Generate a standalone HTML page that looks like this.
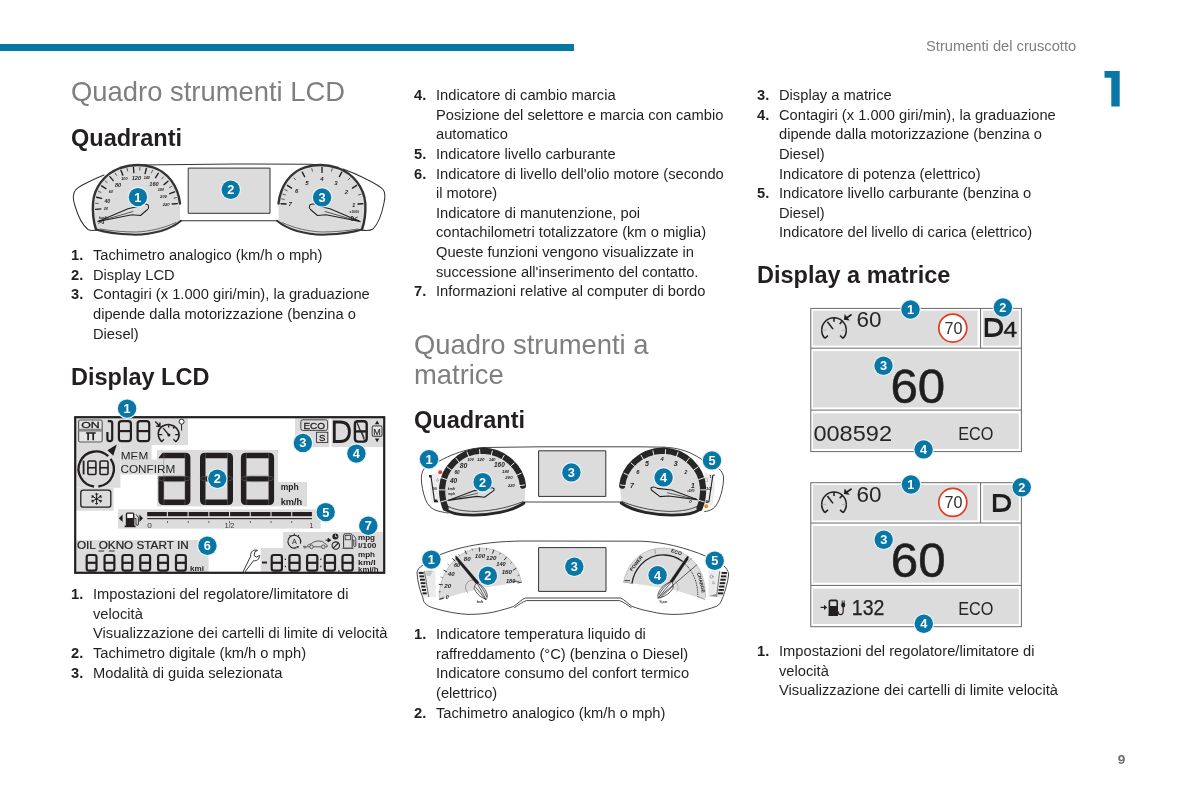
<!DOCTYPE html>
<html><head><meta charset="utf-8"><title>Strumenti del cruscotto</title>
<style>
html,body{margin:0;padding:0;background:#fff;}
body{width:1191px;height:794px;position:relative;overflow:hidden;font-family:"Liberation Sans",sans-serif;color:#231f20;}
.abs{position:absolute;}
.t{position:absolute;font-size:14.7px;line-height:19.62px;white-space:nowrap;}
.t b{position:absolute;left:-22px;font-weight:bold;}
.h1{position:absolute;font-size:27.4px;line-height:29.5px;color:#7f7f7f;white-space:nowrap;}
.h2{position:absolute;font-size:23.5px;font-weight:bold;line-height:28px;color:#231f20;white-space:nowrap;}
svg{position:absolute;overflow:visible;}
body>*{will-change:transform}</style></head><body>
<div class="abs" style="left:0;top:43.9px;width:573.7px;height:7.3px;background:#0877a5;"></div>
<div class="t" style="left:926px;top:36.7px;color:#7f7f7f;">Strumenti del cruscotto</div>
<svg style="left:0;top:0" width="1191" height="794"><text x="1117.8" y="764" font-family="Liberation Sans, sans-serif" font-size="13.6" font-weight="bold" fill="#6e6e6e">9</text></svg>

<!-- column 1 -->
<div class="h1" style="left:71px;top:76.8px;">Quadro strumenti LCD</div>
<div class="h2" style="left:71px;top:124.2px;">Quadranti</div>
<div class="t" style="left:93px;top:245.7px;"><b>1.</b>Tachimetro analogico (km/h o mph)<br><b>2.</b>Display LCD<br><b>3.</b>Contagiri (x 1.000 giri/min), la graduazione<br>dipende dalla motorizzazione (benzina o<br>Diesel)</div>
<div class="h2" style="left:71px;top:363px;">Display LCD</div>
<div class="t" style="left:93px;top:584.7px;"><b>1.</b>Impostazioni del regolatore/limitatore di<br>velocità<br>Visualizzazione dei cartelli di limite di velocità<br><b>2.</b>Tachimetro digitale (km/h o mph)<br><b>3.</b>Modalità di guida selezionata</div>

<!-- column 2 -->
<div class="t" style="left:436px;top:85.7px;"><b>4.</b>Indicatore di cambio marcia<br>Posizione del selettore e marcia con cambio<br>automatico<br><b>5.</b>Indicatore livello carburante<br><b>6.</b>Indicatore di livello dell'olio motore (secondo<br>il motore)<br>Indicatore di manutenzione, poi<br>contachilometri totalizzatore (km o miglia)<br>Queste funzioni vengono visualizzate in<br>successione all'inserimento del contatto.<br><b>7.</b>Informazioni relative al computer di bordo</div>
<div class="h1" style="left:414px;top:329.5px;">Quadro strumenti a<br>matrice</div>
<div class="h2" style="left:414px;top:406px;">Quadranti</div>
<div class="t" style="left:436px;top:624.7px;"><b>1.</b>Indicatore temperatura liquido di<br>raffreddamento (°C) (benzina o Diesel)<br>Indicatore consumo del confort termico<br>(elettrico)<br><b>2.</b>Tachimetro analogico (km/h o mph)</div>

<!-- column 3 -->
<div class="t" style="left:779px;top:85.7px;"><b>3.</b>Display a matrice<br><b>4.</b>Contagiri (x 1.000 giri/min), la graduazione<br>dipende dalla motorizzazione (benzina o<br>Diesel)<br>Indicatore di potenza (elettrico)<br><b>5.</b>Indicatore livello carburante (benzina o<br>Diesel)<br>Indicatore del livello di carica (elettrico)</div>
<div class="h2" style="left:757px;top:261px;">Display a matrice</div>
<div class="t" style="left:779px;top:641.7px;"><b>1.</b>Impostazioni del regolatore/limitatore di<br>velocità<br>Visualizzazione dei cartelli di limite velocità</div>

<svg id="art" style="left:0;top:0" width="1191" height="794" viewBox="0 0 1191 794" font-family="Liberation Sans, sans-serif"><g id="img1" fill="none" stroke-linecap="round" stroke-linejoin="round"><path d="M104 175 C92 180 80 185 75.5 190 C72.5 194 73 200 75 206 C78 216 82 225 88 229.5 C91 231 94 230.5 97 230" stroke="#333" stroke-width="1.05"/><path d="M140 165 L235 163.9 L311 164.3 L326 165.5" stroke="#333" stroke-width="1.05"/><path d="M343 169 C350 171.5 356 174 363 177.5 C371 181.5 379 185 383 189.5 C385.5 192.5 385.3 197 384 203 C382 213 378 224 373 229 C370 231 366 230.8 361 230" stroke="#333" stroke-width="1.05"/><path d="M181 220.7 L277 220.7" stroke="#333" stroke-width="1.05"/><path d="M96 229.5 C93.5 222 92.5 212 93 203 C94 188 104 174 120 168 C131 164.3 143 164.3 153 167.3 C168 172 178 186 180 203.5 L180 221 C175 225.5 168 229 160 231 C150 234 140 234.8 132 234.3 C118 233.5 106 232 96 229.5 Z" fill="#dcdcdc" stroke="none"/><path d="M362 229.5 C364.5 222 365.8 212 365.3 203 C364 188 354 174 338 168 C327 164.3 315 164.3 305 167.3 C290 172 280.5 186 278.5 203.5 L278.5 221 C283 225.5 290 229 298 231 C308 234 318 234.8 326 234.3 C340 233.5 352 232 362 229.5 Z" fill="#dcdcdc" stroke="none"/><path d="M96 229.5 C93.5 222 92.5 212 93 203 C94 188 104 174 120 168 C131 164.3 143 164.3 153 167.3 C168 172 178 186 180 203.5" stroke="#333" stroke-width="2.4"/><path d="M96 229.5 C106 232.5 118 234 132 234.6 C142 235 152 233.5 161 231 C169 228.5 176 225 181 220.7" stroke="#333" stroke-width="2"/><path d="M100 229 C112 231 124 232 136 232 C150 231.5 164 228 176 222.5" stroke="#3a3a3a" stroke-width="0.7"/><path d="M362 229.5 C364.5 222 365.8 212 365.3 203 C364 188 354 174 338 168 C327 164.3 315 164.3 305 167.3 C290 172 280.5 186 278.5 203.5" stroke="#333" stroke-width="2.4"/><path d="M362 229.5 C352 232.5 340 234 326 234.6 C316 235 306 233.5 297 231 C289 228.5 282 225 277 220.7" stroke="#333" stroke-width="2"/><path d="M358 229 C346 231 334 232 322 232 C308 231.5 294 228 282 222.5" stroke="#3a3a3a" stroke-width="0.7"/><rect x="188.6" y="168.1" width="81.4" height="45.2" fill="#dcdcdc" stroke="#333" stroke-width="1"/><line x1="95.66" y1="209.36" x2="100.84" y2="208.91" stroke="#231f20" stroke-width="1.35"/><line x1="95.60" y1="203.26" x2="98.20" y2="203.44" stroke="#231f20" stroke-width="0.7"/><line x1="96.58" y1="197.22" x2="101.64" y2="198.40" stroke="#231f20" stroke-width="1.35"/><line x1="98.55" y1="191.40" x2="100.95" y2="192.38" stroke="#231f20" stroke-width="0.7"/><line x1="101.47" y1="185.95" x2="105.91" y2="188.65" stroke="#231f20" stroke-width="1.35"/><line x1="105.27" y1="181.00" x2="107.25" y2="182.68" stroke="#231f20" stroke-width="0.7"/><line x1="109.85" y1="176.67" x2="113.23" y2="180.62" stroke="#231f20" stroke-width="1.35"/><line x1="115.09" y1="173.08" x2="116.45" y2="175.30" stroke="#231f20" stroke-width="0.7"/><line x1="120.88" y1="170.31" x2="122.86" y2="175.12" stroke="#231f20" stroke-width="1.35"/><line x1="127.05" y1="168.44" x2="127.65" y2="170.97" stroke="#231f20" stroke-width="0.7"/><line x1="133.46" y1="167.51" x2="133.85" y2="172.69" stroke="#231f20" stroke-width="1.35"/><line x1="139.95" y1="167.54" x2="139.73" y2="170.13" stroke="#231f20" stroke-width="0.7"/><line x1="146.35" y1="168.53" x2="145.10" y2="173.58" stroke="#231f20" stroke-width="1.35"/><line x1="152.50" y1="170.46" x2="151.49" y2="172.86" stroke="#231f20" stroke-width="0.7"/><line x1="158.26" y1="173.28" x2="155.50" y2="177.69" stroke="#231f20" stroke-width="1.35"/><line x1="163.47" y1="176.92" x2="161.76" y2="178.88" stroke="#231f20" stroke-width="0.7"/><line x1="168.00" y1="181.29" x2="164.00" y2="184.62" stroke="#231f20" stroke-width="1.35"/><line x1="171.74" y1="186.28" x2="169.51" y2="187.61" stroke="#231f20" stroke-width="0.7"/><line x1="174.61" y1="191.76" x2="169.77" y2="193.68" stroke="#231f20" stroke-width="1.35"/><line x1="176.52" y1="197.60" x2="173.98" y2="198.16" stroke="#231f20" stroke-width="0.7"/><line x1="177.42" y1="203.64" x2="172.23" y2="203.96" stroke="#231f20" stroke-width="1.35"/><text x="105.9" y="209.97" font-size="3.8" font-weight="bold" font-style="italic" fill="#231f20" stroke="none" text-anchor="middle">20</text><text x="107.3" y="202.57" font-size="5.2" font-weight="bold" font-style="italic" fill="#231f20" stroke="none" text-anchor="middle">40</text><text x="110.9" y="192.77" font-size="3.8" font-weight="bold" font-style="italic" fill="#231f20" stroke="none" text-anchor="middle">60</text><text x="118" y="187.02" font-size="5.6" font-weight="bold" font-style="italic" fill="#231f20" stroke="none" text-anchor="middle">80</text><text x="124.4" y="179.97" font-size="3.8" font-weight="bold" font-style="italic" fill="#231f20" stroke="none" text-anchor="middle">100</text><text x="136.4" y="179.92" font-size="5.6" font-weight="bold" font-style="italic" fill="#231f20" stroke="none" text-anchor="middle">120</text><text x="146.8" y="179.37" font-size="3.8" font-weight="bold" font-style="italic" fill="#231f20" stroke="none" text-anchor="middle">140</text><text x="154" y="186.32" font-size="5.6" font-weight="bold" font-style="italic" fill="#231f20" stroke="none" text-anchor="middle">160</text><text x="160.9" y="190.67" font-size="3.8" font-weight="bold" font-style="italic" fill="#231f20" stroke="none" text-anchor="middle">180</text><text x="163.6" y="197.91" font-size="4.2" font-weight="bold" font-style="italic" fill="#231f20" stroke="none" text-anchor="middle">200</text><text x="166.2" y="205.81" font-size="4.2" font-weight="bold" font-style="italic" fill="#231f20" stroke="none" text-anchor="middle">220</text><line x1="281.07" y1="203.71" x2="286.06" y2="204.01" stroke="#231f20" stroke-width="1.35"/><line x1="287.33" y1="185.39" x2="291.56" y2="188.06" stroke="#231f20" stroke-width="1.35"/><line x1="302.21" y1="172.20" x2="304.62" y2="176.57" stroke="#231f20" stroke-width="1.35"/><line x1="322.00" y1="167.40" x2="322.00" y2="172.40" stroke="#231f20" stroke-width="1.35"/><line x1="341.79" y1="172.20" x2="339.38" y2="176.57" stroke="#231f20" stroke-width="1.35"/><line x1="356.67" y1="185.39" x2="352.44" y2="188.06" stroke="#231f20" stroke-width="1.35"/><line x1="362.93" y1="203.71" x2="357.94" y2="204.01" stroke="#231f20" stroke-width="1.35"/><line x1="282.97" y1="194.18" x2="285.45" y2="194.97" stroke="#231f20" stroke-width="0.7"/><line x1="293.88" y1="177.91" x2="295.67" y2="179.80" stroke="#231f20" stroke-width="0.7"/><line x1="311.78" y1="168.62" x2="312.43" y2="171.14" stroke="#231f20" stroke-width="0.7"/><line x1="332.22" y1="168.62" x2="331.57" y2="171.14" stroke="#231f20" stroke-width="0.7"/><line x1="350.12" y1="177.91" x2="348.33" y2="179.80" stroke="#231f20" stroke-width="0.7"/><line x1="361.03" y1="194.18" x2="358.55" y2="194.97" stroke="#231f20" stroke-width="0.7"/><line x1="281.70" y1="198.89" x2="284.26" y2="199.37" stroke="#231f20" stroke-width="0.7"/><line x1="284.86" y1="189.65" x2="287.21" y2="190.76" stroke="#231f20" stroke-width="0.7"/><text x="290.2" y="206.46" font-size="6" font-weight="bold" font-style="italic" fill="#231f20" stroke="none" text-anchor="middle">7</text><text x="296.6" y="192.86" font-size="6" font-weight="bold" font-style="italic" fill="#231f20" stroke="none" text-anchor="middle">6</text><text x="306.9" y="184.76" font-size="6" font-weight="bold" font-style="italic" fill="#231f20" stroke="none" text-anchor="middle">5</text><text x="322" y="180.76" font-size="6" font-weight="bold" font-style="italic" fill="#231f20" stroke="none" text-anchor="middle">4</text><text x="335.9" y="184.76" font-size="6" font-weight="bold" font-style="italic" fill="#231f20" stroke="none" text-anchor="middle">3</text><text x="346.3" y="193.56" font-size="6" font-weight="bold" font-style="italic" fill="#231f20" stroke="none" text-anchor="middle">2</text><text x="353.6" y="207.16" font-size="6" font-weight="bold" font-style="italic" fill="#231f20" stroke="none" text-anchor="middle">1</text><path d="M98 221.6 L128 208.8 L139 206.2 C143 203.5 146.5 203.8 148.3 205.2 C149 207 148.5 208.5 147.5 209.5 L140.5 215.5 L132 214.8 Z" stroke="#222" stroke-width="1.05" fill="#dcdcdc"/><path d="M98 221.6 L133 211.5" stroke="#222" stroke-width="0.7"/><path d="M360 221.6 L330 208.8 L319 206.2 C315 203.5 311.5 203.8 309.7 205.2 C309 207 309.5 208.5 310.5 209.5 L317.5 215.5 L326 214.8 Z" stroke="#222" stroke-width="1.05" fill="#dcdcdc"/><path d="M360 221.6 L325 211.5" stroke="#222" stroke-width="0.7"/><text x="99" y="218.6" font-size="3.6" font-weight="bold" font-style="italic" fill="#231f20" stroke="none">km/h</text><text x="98" y="224.4" font-size="5.6" font-weight="bold" fill="#231f20" stroke="none">&gt;0</text><text x="349.6" y="212.6" font-size="3.4" font-weight="bold" fill="#231f20" stroke="none">x1000</text><text x="350.6" y="221.4" font-size="6.4" font-weight="bold" fill="#231f20" stroke="none">0&lt;</text></g><circle cx="137.9" cy="197.1" r="10.299999999999999" fill="#e8f3f8"/><circle cx="137.9" cy="197.1" r="9.2" fill="#0877a5"/><text x="137.9" y="201.6" font-size="12.8" font-weight="bold" fill="#fff" text-anchor="middle">1</text><circle cx="230.7" cy="189.7" r="10.299999999999999" fill="#e8f3f8"/><circle cx="230.7" cy="189.7" r="9.2" fill="#0877a5"/><text x="230.7" y="194.2" font-size="12.8" font-weight="bold" fill="#fff" text-anchor="middle">2</text><circle cx="322.1" cy="197.4" r="10.299999999999999" fill="#e8f3f8"/><circle cx="322.1" cy="197.4" r="9.2" fill="#0877a5"/><text x="322.1" y="201.9" font-size="12.8" font-weight="bold" fill="#fff" text-anchor="middle">3</text><g id="img2"><rect x="76" y="418" width="112.00" height="27.00" fill="#dcdcdc"/><rect x="76" y="445" width="44.40" height="42.80" fill="#dcdcdc"/><rect x="76" y="488" width="37.60" height="22.70" fill="#dcdcdc"/><rect x="120.4" y="445" width="31.20" height="14.60" fill="#dcdcdc"/><rect x="120.4" y="459.4" width="55.60" height="15.10" fill="#dcdcdc"/><rect x="157" y="450" width="121.00" height="56.40" fill="#dcdcdc"/><rect x="278" y="482" width="29.00" height="24.40" fill="#dcdcdc"/><rect x="118" y="509.3" width="202.70" height="19.30" fill="#dcdcdc"/><rect x="76" y="540" width="132.60" height="32.00" fill="#dcdcdc"/><rect x="283" y="532" width="100.00" height="40.00" fill="#dcdcdc"/><rect x="260.7" y="548" width="122.30" height="24.00" fill="#dcdcdc"/><rect x="295" y="418" width="34.30" height="29.00" fill="#dcdcdc"/><rect x="331.4" y="418" width="51.60" height="29.00" fill="#dcdcdc"/><rect x="75.2" y="417.2" width="309" height="155.6" fill="none" stroke="#231f20" stroke-width="2.2"/><rect x="78.6" y="420" width="23.6" height="22" rx="1.8" fill="#e4e4e4" stroke="#5a5a5a" stroke-width="1.1"/><rect x="78.6" y="428.7" width="23.6" height="2.9" fill="#8a8a8a"/><text x="90.5" y="427.8" font-size="8.8" font-weight="normal" font-style="normal" fill="#1e1e1e" text-anchor="middle" textLength="18.6" lengthAdjust="spacingAndGlyphs" stroke="#1e1e1e" stroke-width="0.3">ON</text><path d="M86.1 433 H95.7 M88.1 433 V440.3 M93.2 433 V440.3" stroke="#231f20" stroke-width="1.7" fill="none"/><path d="M107.8 421.1 H110.2 Q112.2 421.1 112.2 423 V438.8 Q112.2 441.1 110 441.1 H109.4 Q107.4 441.1 107.4 438.8 V432" fill="none" stroke="#231f20" stroke-width="2.2" stroke-linejoin="round"/><path d="M121.49999999999999 421.1 H128.3 Q130.9 421.1 130.9 423.70000000000005 V438.49999999999994 Q130.9 441.09999999999997 128.3 441.09999999999997 H121.49999999999999 Q118.89999999999999 441.09999999999997 118.89999999999999 438.49999999999994 V423.70000000000005 Q118.89999999999999 421.1 121.49999999999999 421.1 Z" fill="none" stroke="#231f20" stroke-width="2.2" stroke-linejoin="round"/><line x1="118.89999999999999" y1="431.1" x2="130.9" y2="431.1" stroke="#231f20" stroke-width="2.2"/><path d="M140.2 421.1 H146.60000000000002 Q149.20000000000002 421.1 149.20000000000002 423.70000000000005 V438.49999999999994 Q149.20000000000002 441.09999999999997 146.60000000000002 441.09999999999997 H140.2 Q137.6 441.09999999999997 137.6 438.49999999999994 V423.70000000000005 Q137.6 421.1 140.2 421.1 Z" fill="none" stroke="#231f20" stroke-width="2.2" stroke-linejoin="round"/><line x1="137.6" y1="431.1" x2="149.20000000000002" y2="431.1" stroke="#231f20" stroke-width="2.2"/><path d="M161.6 441.6 C157 437 157.2 429.6 162.4 426.3 C167 423.4 173.4 424.2 176.8 428.4 C180.4 433 179.6 438.6 176 441.6" fill="none" stroke="#231f20" stroke-width="1.6"/><path d="M161.4 442 L164 439.3 M176.2 442 L173.4 439.3 M158.8 434.7 H162.2 M178.8 434.7 H175.2 M168.7 425.2 V427.4 M173 427.2 L174.2 428.6" stroke="#231f20" stroke-width="1.3" fill="none"/><path d="M163.2 428.1 L168.9 435" stroke="#231f20" stroke-width="1.3"/><circle cx="168.9" cy="435" r="1.5" fill="#231f20"/><path d="M155.3 421.6 L159.4 425.8 M156.2 426.3 H159.9 V422.4" stroke="#231f20" stroke-width="1.4" fill="none"/><circle cx="181.6" cy="421.7" r="2.5" fill="#f4f4f4" stroke="#231f20" stroke-width="0.9"/><line x1="181.6" y1="424.2" x2="181.6" y2="430.6" stroke="#231f20" stroke-width="1"/><path d="M116.8 444.4 L107.4 450.3 L113.3 455.8 Z" fill="#231f20"/><path d="M94 486.5 A17.6 17.6 0 1 1 108.2 456.2" fill="none" stroke="#231f20" stroke-width="2.3"/><path d="M110.6 458.8 A17.6 17.6 0 0 1 98.4 486.5" fill="none" stroke="#231f20" stroke-width="2.3"/><path d="M83.6 460.6 V474.4" stroke="#231f20" stroke-width="1.8"/><path d="M89.19999999999999 461.0 H94.6 Q95.89999999999999 461.0 95.89999999999999 462.3 V473.2 Q95.89999999999999 474.5 94.6 474.5 H89.19999999999999 Q87.89999999999999 474.5 87.89999999999999 473.2 V462.3 Q87.89999999999999 461.0 89.19999999999999 461.0 Z" fill="none" stroke="#231f20" stroke-width="1.6" stroke-linejoin="round"/><line x1="87.89999999999999" y1="467.75" x2="95.89999999999999" y2="467.75" stroke="#231f20" stroke-width="1.6"/><path d="M101.3 461.0 H106.7 Q108.0 461.0 108.0 462.3 V473.2 Q108.0 474.5 106.7 474.5 H101.3 Q100.0 474.5 100.0 473.2 V462.3 Q100.0 461.0 101.3 461.0 Z" fill="none" stroke="#231f20" stroke-width="1.6" stroke-linejoin="round"/><line x1="100.0" y1="467.75" x2="108.0" y2="467.75" stroke="#231f20" stroke-width="1.6"/><rect x="80.8" y="490.2" width="30" height="17" rx="2.5" fill="none" stroke="#231f20" stroke-width="1.3"/><path d="M96.60 492.90 L96.60 504.70 M96.60 502.46 L95.25 504.07 M96.60 502.46 L97.95 504.07 M96.60 495.14 L97.95 493.53 M96.60 495.14 L95.25 493.53 M101.71 495.85 L91.49 501.75 M93.43 500.63 L91.36 500.26 M93.43 500.63 L92.71 502.60 M99.77 496.97 L101.84 497.34 M99.77 496.97 L100.49 495.00 M101.71 501.75 L91.49 495.85 M93.43 496.97 L92.71 495.00 M93.43 496.97 L91.36 497.34 M99.77 500.63 L100.49 502.60 M99.77 500.63 L101.84 500.26 " stroke="#231f20" stroke-width="1" fill="none"/><path d="M163.4 452.8 H185.4 Q190.4 452.8 190.4 457.8 V500.0 Q190.4 505.0 185.4 505.0 H163.4 Q158.4 505.0 158.4 500.0 V457.8 Q158.4 452.8 163.4 452.8 Z M163.9 458.2 H184.9 V476.20000000000005 H163.9 Z M163.9 481.6 H184.9 V499.6 H163.9 Z" fill="#231f20" fill-rule="evenodd"/><path d="M157.8 458.2 H163.9 V476.20000000000005 H157.8 Z M157.8 458.4 L162.8 452.40000000000003 H157.8 Z" fill="#dcdcdc"/><path d="M163.9 452.8 V505.0 M184.9 452.8 V505.0" stroke="#8a8a8a" stroke-width="0.35" fill="none"/><path d="M205 452.8 H228 Q233 452.8 233 457.8 V500.0 Q233 505.0 228 505.0 H205 Q200 505.0 200 500.0 V457.8 Q200 452.8 205 452.8 Z M205.5 458.2 H227.5 V476.20000000000005 H205.5 Z M205.5 481.6 H227.5 V499.6 H205.5 Z" fill="#231f20" fill-rule="evenodd"/><path d="M205.5 452.8 V505.0 M227.5 452.8 V505.0" stroke="#8a8a8a" stroke-width="0.35" fill="none"/><path d="M245.9 452.8 H269.1 Q274.1 452.8 274.1 457.8 V500.0 Q274.1 505.0 269.1 505.0 H245.9 Q240.9 505.0 240.9 500.0 V457.8 Q240.9 452.8 245.9 452.8 Z M246.4 458.2 H268.6 V476.20000000000005 H246.4 Z M246.4 481.6 H268.6 V499.6 H246.4 Z" fill="#231f20" fill-rule="evenodd"/><path d="M246.4 452.8 V505.0 M268.6 452.8 V505.0" stroke="#8a8a8a" stroke-width="0.35" fill="none"/><text x="120.8" y="459.7" font-size="11" font-weight="normal" font-style="normal" fill="#262626" text-anchor="start" textLength="27.4" lengthAdjust="spacingAndGlyphs" >MEM</text><rect x="120.5" y="459.3" width="31" height="1.8" fill="#dcdcdc"/><text x="120.4" y="472.5" font-size="11.2" font-weight="normal" font-style="normal" fill="#262626" text-anchor="start" textLength="55" lengthAdjust="spacingAndGlyphs" >CONFIRM</text><ellipse cx="174" cy="478.6" rx="16.4" ry="3.4" fill="none" stroke="#888" stroke-width="0.4"/><ellipse cx="216.5" cy="478.6" rx="16.4" ry="3.4" fill="none" stroke="#888" stroke-width="0.4"/><ellipse cx="257.5" cy="478.6" rx="16.4" ry="3.4" fill="none" stroke="#888" stroke-width="0.4"/><text x="280.7" y="489.5" font-size="8.6" font-weight="bold" font-style="normal" fill="#231f20" text-anchor="start" textLength="18" lengthAdjust="spacingAndGlyphs" >mph</text><text x="280.7" y="505" font-size="8.6" font-weight="bold" font-style="normal" fill="#231f20" text-anchor="start" textLength="21.5" lengthAdjust="spacingAndGlyphs" >km/h</text><path d="M118.8 518.3 L122.6 514.6 V522 Z M143 518.3 L139.4 514.6 V522 Z" fill="#231f20"/><path d="M125.8 526.6 V514 Q125.8 512.4 127.4 512.4 H132.8 Q134.4 512.4 134.4 514 V526.6 Z" fill="#231f20"/><rect x="127.2" y="513.8" width="5.8" height="4.2" fill="#fff"/><rect x="124.6" y="525.6" width="11" height="1.6" fill="#231f20"/><path d="M134.4 518.5 H136 V524 Q136 525.3 137.2 525.3 Q138.4 525.3 138.4 524 V517.5 L136.2 514.4" fill="none" stroke="#231f20" stroke-width="0.9"/><rect x="147.20" y="512" width="19.62" height="4.2" fill="#231f20"/><rect x="167.92" y="512" width="19.62" height="4.2" fill="#231f20"/><rect x="167.02" y="521.2" width="0.8" height="1.6" fill="#231f20"/><rect x="188.65" y="512" width="19.62" height="4.2" fill="#231f20"/><rect x="187.75" y="521.2" width="0.8" height="1.6" fill="#231f20"/><rect x="209.38" y="512" width="19.62" height="4.2" fill="#231f20"/><rect x="208.47" y="521.2" width="0.8" height="1.6" fill="#231f20"/><rect x="230.10" y="512" width="19.62" height="4.2" fill="#231f20"/><rect x="229.20" y="521.2" width="0.8" height="1.6" fill="#231f20"/><rect x="250.82" y="512" width="19.62" height="4.2" fill="#231f20"/><rect x="249.92" y="521.2" width="0.8" height="1.6" fill="#231f20"/><rect x="271.55" y="512" width="19.62" height="4.2" fill="#231f20"/><rect x="270.65" y="521.2" width="0.8" height="1.6" fill="#231f20"/><rect x="292.27" y="512" width="19.62" height="4.2" fill="#231f20"/><rect x="291.38" y="521.2" width="0.8" height="1.6" fill="#231f20"/><rect x="147.2" y="518.1" width="164.70000000000002" height="1.1" fill="#231f20"/><text x="147.2" y="527.6" font-size="6.8" font-weight="normal" font-style="normal" fill="#333" text-anchor="start" textLength="4.6" lengthAdjust="spacingAndGlyphs" >0</text><text x="229.6" y="527.6" font-size="6.8" font-weight="normal" font-style="normal" fill="#333" text-anchor="middle" >1/2</text><text x="309.4" y="527.6" font-size="6.8" font-weight="normal" font-style="normal" fill="#333" text-anchor="start" >1</text><text x="77" y="548.8" font-size="10.6" font-weight="normal" font-style="normal" fill="#222" text-anchor="start" textLength="111.6" lengthAdjust="spacingAndGlyphs" stroke="#222" stroke-width="0.2">OIL OKNO START IN</text><path d="M98.5 551 H104.2 M109 551 H114.6" stroke="#231f20" stroke-width="0.9"/><path d="M88.89999999999999 555.0 H94.3 Q96.5 555.0 96.5 557.2 V568.3999999999999 Q96.5 570.5999999999999 94.3 570.5999999999999 H88.89999999999999 Q86.69999999999999 570.5999999999999 86.69999999999999 568.3999999999999 V557.2 Q86.69999999999999 555.0 88.89999999999999 555.0 Z" fill="none" stroke="#231f20" stroke-width="2.2" stroke-linejoin="round"/><line x1="86.69999999999999" y1="562.8" x2="96.5" y2="562.8" stroke="#231f20" stroke-width="2.2"/><path d="M106.75999999999999 555.0 H112.16 Q114.36 555.0 114.36 557.2 V568.3999999999999 Q114.36 570.5999999999999 112.16 570.5999999999999 H106.75999999999999 Q104.55999999999999 570.5999999999999 104.55999999999999 568.3999999999999 V557.2 Q104.55999999999999 555.0 106.75999999999999 555.0 Z" fill="none" stroke="#231f20" stroke-width="2.2" stroke-linejoin="round"/><line x1="104.55999999999999" y1="562.8" x2="114.36" y2="562.8" stroke="#231f20" stroke-width="2.2"/><path d="M124.61999999999999 555.0 H130.02 Q132.22 555.0 132.22 557.2 V568.3999999999999 Q132.22 570.5999999999999 130.02 570.5999999999999 H124.61999999999999 Q122.41999999999999 570.5999999999999 122.41999999999999 568.3999999999999 V557.2 Q122.41999999999999 555.0 124.61999999999999 555.0 Z" fill="none" stroke="#231f20" stroke-width="2.2" stroke-linejoin="round"/><line x1="122.41999999999999" y1="562.8" x2="132.22" y2="562.8" stroke="#231f20" stroke-width="2.2"/><path d="M142.48 555.0 H147.88000000000002 Q150.08 555.0 150.08 557.2 V568.3999999999999 Q150.08 570.5999999999999 147.88000000000002 570.5999999999999 H142.48 Q140.28 570.5999999999999 140.28 568.3999999999999 V557.2 Q140.28 555.0 142.48 555.0 Z" fill="none" stroke="#231f20" stroke-width="2.2" stroke-linejoin="round"/><line x1="140.28" y1="562.8" x2="150.08" y2="562.8" stroke="#231f20" stroke-width="2.2"/><path d="M160.33999999999997 555.0 H165.74 Q167.94 555.0 167.94 557.2 V568.3999999999999 Q167.94 570.5999999999999 165.74 570.5999999999999 H160.33999999999997 Q158.14 570.5999999999999 158.14 568.3999999999999 V557.2 Q158.14 555.0 160.33999999999997 555.0 Z" fill="none" stroke="#231f20" stroke-width="2.2" stroke-linejoin="round"/><line x1="158.14" y1="562.8" x2="167.94" y2="562.8" stroke="#231f20" stroke-width="2.2"/><path d="M178.19999999999996 555.0 H183.6 Q185.79999999999998 555.0 185.79999999999998 557.2 V568.3999999999999 Q185.79999999999998 570.5999999999999 183.6 570.5999999999999 H178.19999999999996 Q175.99999999999997 570.5999999999999 175.99999999999997 568.3999999999999 V557.2 Q175.99999999999997 555.0 178.19999999999996 555.0 Z" fill="none" stroke="#231f20" stroke-width="2.2" stroke-linejoin="round"/><line x1="175.99999999999997" y1="562.8" x2="185.79999999999998" y2="562.8" stroke="#231f20" stroke-width="2.2"/><text x="190" y="571.4" font-size="7.2" font-weight="bold" font-style="normal" fill="#231f20" text-anchor="start" textLength="14" lengthAdjust="spacingAndGlyphs" >kmi</text><path d="M243.2 571.6 L244.4 572.6 L253.6 560.6 C256.6 561.4 259.4 559.4 259.6 555.4 L256.2 557.2 L254 555.4 L255 551.6 L257.6 550.4 C254 549 250.2 551.4 250.6 556.4 Z" fill="#fff" stroke="#231f20" stroke-width="0.9" stroke-linejoin="round"/><rect x="262" y="561.6" width="5" height="1.9" fill="#231f20"/><path d="M273.90000000000003 555.0 H279.7 Q281.9 555.0 281.9 557.2 V568.3999999999999 Q281.9 570.5999999999999 279.7 570.5999999999999 H273.90000000000003 Q271.70000000000005 570.5999999999999 271.70000000000005 568.3999999999999 V557.2 Q271.70000000000005 555.0 273.90000000000003 555.0 Z" fill="none" stroke="#231f20" stroke-width="2.2" stroke-linejoin="round"/><line x1="271.70000000000005" y1="562.8" x2="281.9" y2="562.8" stroke="#231f20" stroke-width="2.2"/><path d="M291.6 555.0 H297.4 Q299.59999999999997 555.0 299.59999999999997 557.2 V568.3999999999999 Q299.59999999999997 570.5999999999999 297.4 570.5999999999999 H291.6 Q289.40000000000003 570.5999999999999 289.40000000000003 568.3999999999999 V557.2 Q289.40000000000003 555.0 291.6 555.0 Z" fill="none" stroke="#231f20" stroke-width="2.2" stroke-linejoin="round"/><line x1="289.40000000000003" y1="562.8" x2="299.59999999999997" y2="562.8" stroke="#231f20" stroke-width="2.2"/><path d="M309.3 555.0 H315.09999999999997 Q317.29999999999995 555.0 317.29999999999995 557.2 V568.3999999999999 Q317.29999999999995 570.5999999999999 315.09999999999997 570.5999999999999 H309.3 Q307.1 570.5999999999999 307.1 568.3999999999999 V557.2 Q307.1 555.0 309.3 555.0 Z" fill="none" stroke="#231f20" stroke-width="2.2" stroke-linejoin="round"/><line x1="307.1" y1="562.8" x2="317.29999999999995" y2="562.8" stroke="#231f20" stroke-width="2.2"/><path d="M327.00000000000006 555.0 H332.8 Q335.0 555.0 335.0 557.2 V568.3999999999999 Q335.0 570.5999999999999 332.8 570.5999999999999 H327.00000000000006 Q324.80000000000007 570.5999999999999 324.80000000000007 568.3999999999999 V557.2 Q324.80000000000007 555.0 327.00000000000006 555.0 Z" fill="none" stroke="#231f20" stroke-width="2.2" stroke-linejoin="round"/><line x1="324.80000000000007" y1="562.8" x2="335.0" y2="562.8" stroke="#231f20" stroke-width="2.2"/><path d="M344.70000000000005 555.0 H350.5 Q352.7 555.0 352.7 557.2 V568.3999999999999 Q352.7 570.5999999999999 350.5 570.5999999999999 H344.70000000000005 Q342.50000000000006 570.5999999999999 342.50000000000006 568.3999999999999 V557.2 Q342.50000000000006 555.0 344.70000000000005 555.0 Z" fill="none" stroke="#231f20" stroke-width="2.2" stroke-linejoin="round"/><line x1="342.50000000000006" y1="562.8" x2="352.7" y2="562.8" stroke="#231f20" stroke-width="2.2"/><rect x="284.79999999999995" y="558.6" width="1.2" height="1.4" fill="#231f20"/><rect x="284.79999999999995" y="565.8" width="1.2" height="1.4" fill="#231f20"/><rect x="320.2" y="558.6" width="1.2" height="1.4" fill="#231f20"/><rect x="320.2" y="565.8" width="1.2" height="1.4" fill="#231f20"/><rect x="338.2" y="570.2" width="1.3" height="1.6" fill="#231f20"/><path d="M296.6 547.6 A6.4 6.4 0 1 1 300.4 543.6" fill="none" stroke="#231f20" stroke-width="1.15"/><path d="M298 548.6 L296.2 546.2 L299 546 Z" fill="#231f20"/><path d="M289.6 535 L290.8 536.6 M294.3 533.4 V535.2 M299 535 L297.8 536.6" stroke="#231f20" stroke-width="1"/><text x="294.3" y="544.2" font-size="7.2" font-weight="normal" font-style="normal" fill="#231f20" text-anchor="middle" >A</text><path d="M303 546.4 H306.6 M303.6 547.8 H306.6" stroke="#231f20" stroke-width="0.7"/><path d="M307.4 546.6 C307.6 544.8 309 544.2 311 544 C313 541.8 316 541 319 541 C322 541 324 542.2 325.4 544 C326.8 544.4 327.4 545.4 327.2 546.8 H325.6 M321 546.8 H313.6 M309.4 546.8 H307.4" fill="none" stroke="#231f20" stroke-width="0.7"/><circle cx="311.5" cy="546.8" r="1.8" fill="none" stroke="#231f20" stroke-width="0.7"/><circle cx="323.3" cy="546.8" r="1.8" fill="none" stroke="#231f20" stroke-width="0.7"/><path d="M325.6 540.2 H329 M328 538.4 L330.8 540.2 L328 542 Z" stroke="#231f20" stroke-width="1" fill="#231f20"/><circle cx="335.4" cy="536.6" r="3" fill="#231f20"/><path d="M335.4 534.4 V536.8 H337.4" stroke="#fff" stroke-width="0.7" fill="none"/><circle cx="335.8" cy="545.6" r="3.7" fill="none" stroke="#231f20" stroke-width="1.1"/><path d="M333.2 548.2 L338.4 543" stroke="#231f20" stroke-width="1.1"/><path d="M343.6 547.6 V535.4 Q343.6 533.8 345.2 533.8 H350.6 Q352.2 533.8 352.2 535.4 V547.6" fill="none" stroke="#231f20" stroke-width="0.9"/><rect x="345.2" y="535.6" width="5.4" height="4.2" fill="none" stroke="#231f20" stroke-width="0.7"/><path d="M342.4 548.2 H353.4" stroke="#231f20" stroke-width="1"/><path d="M352.2 540 H353.8 V545.4 Q353.8 546.6 354.8 546.6 Q355.8 546.6 355.8 545.4 V538.4 L353.4 535.2" fill="none" stroke="#231f20" stroke-width="0.8"/><text x="358" y="540.4" font-size="8" font-weight="bold" font-style="normal" fill="#231f20" text-anchor="start" textLength="17" lengthAdjust="spacingAndGlyphs" >mpg</text><text x="358" y="548.4" font-size="8" font-weight="bold" font-style="normal" fill="#231f20" text-anchor="start" textLength="18.4" lengthAdjust="spacingAndGlyphs" >l/100</text><text x="358" y="556.8" font-size="8" font-weight="bold" font-style="normal" fill="#231f20" text-anchor="start" textLength="17" lengthAdjust="spacingAndGlyphs" >mph</text><text x="358" y="564.6" font-size="8" font-weight="bold" font-style="normal" fill="#231f20" text-anchor="start" textLength="17.6" lengthAdjust="spacingAndGlyphs" >km/l</text><text x="358" y="572.4" font-size="8" font-weight="bold" font-style="normal" fill="#231f20" text-anchor="start" textLength="20.6" lengthAdjust="spacingAndGlyphs" >kmi/h</text><rect x="300.8" y="419.8" width="26.8" height="10.6" rx="2" fill="none" stroke="#231f20" stroke-width="0.8"/><text x="314.2" y="429" font-size="9.4" font-weight="normal" font-style="normal" fill="#231f20" text-anchor="middle" textLength="21.6" lengthAdjust="spacingAndGlyphs" stroke="#231f20" stroke-width="0.3">ECO</text><rect x="316.6" y="432.2" width="11.2" height="10.2" fill="none" stroke="#231f20" stroke-width="0.8"/><text x="322.2" y="441" font-size="9.6" font-weight="normal" font-style="normal" fill="#231f20" text-anchor="middle" stroke="#231f20" stroke-width="0.3">S</text><path d="M334.3 422 H340 C346.8 422 349.4 426 349.4 431.8 C349.4 437.6 346.8 441.5 340 441.5 H334.3 Z" fill="none" stroke="#231f20" stroke-width="2.8" stroke-linejoin="miter"/><path d="M357.9 421.2 H363.7 Q366.7 421.2 366.7 424.2 V438.6 Q366.7 441.6 363.7 441.6 H357.9 Q354.9 441.6 354.9 438.6 V424.2 Q354.9 421.2 357.9 421.2 Z" fill="none" stroke="#231f20" stroke-width="2.4" stroke-linejoin="round"/><line x1="354.9" y1="431.4" x2="366.7" y2="431.4" stroke="#231f20" stroke-width="2.4"/><path d="M357 422 L364.6 441 M357.4 424 L360 430.5 M362 432 L364.4 438.5" stroke="#231f20" stroke-width="0.9" fill="none"/><rect x="372.2" y="425.8" width="9.8" height="10.6" rx="1.6" fill="#e6e6e6" stroke="#555" stroke-width="1.2"/><text x="377.1" y="434.9" font-size="9" font-weight="normal" font-style="normal" fill="#333" text-anchor="middle" stroke="#333" stroke-width="0.25">M</text><path d="M377.1 420.6 L379.3 424.2 H374.9 Z M377.1 442.2 L379.3 438.6 H374.9 Z" fill="#231f20"/></g><circle cx="127.1" cy="408.6" r="10.299999999999999" fill="#e8f3f8"/><circle cx="127.1" cy="408.6" r="9.2" fill="#0877a5"/><text x="127.1" y="413.1" font-size="12.8" font-weight="bold" fill="#fff" text-anchor="middle">1</text><circle cx="217.3" cy="478.8" r="10.299999999999999" fill="#e8f3f8"/><circle cx="217.3" cy="478.8" r="9.2" fill="#0877a5"/><text x="217.3" y="483.3" font-size="12.8" font-weight="bold" fill="#fff" text-anchor="middle">2</text><circle cx="302.9" cy="442.9" r="10.299999999999999" fill="#e8f3f8"/><circle cx="302.9" cy="442.9" r="9.2" fill="#0877a5"/><text x="302.9" y="447.4" font-size="12.8" font-weight="bold" fill="#fff" text-anchor="middle">3</text><circle cx="356.4" cy="453.6" r="10.299999999999999" fill="#e8f3f8"/><circle cx="356.4" cy="453.6" r="9.2" fill="#0877a5"/><text x="356.4" y="458.1" font-size="12.8" font-weight="bold" fill="#fff" text-anchor="middle">4</text><circle cx="325.7" cy="512.1" r="10.299999999999999" fill="#e8f3f8"/><circle cx="325.7" cy="512.1" r="9.2" fill="#0877a5"/><text x="325.7" y="516.6" font-size="12.8" font-weight="bold" fill="#fff" text-anchor="middle">5</text><circle cx="207.4" cy="545.7" r="10.299999999999999" fill="#e8f3f8"/><circle cx="207.4" cy="545.7" r="9.2" fill="#0877a5"/><text x="207.4" y="550.2" font-size="12.8" font-weight="bold" fill="#fff" text-anchor="middle">6</text><circle cx="368.3" cy="525.7" r="10.299999999999999" fill="#e8f3f8"/><circle cx="368.3" cy="525.7" r="9.2" fill="#0877a5"/><text x="368.3" y="530.2" font-size="12.8" font-weight="bold" fill="#fff" text-anchor="middle">7</text><g id="img3" fill="none" stroke-linecap="round" stroke-linejoin="round"><path d="M485 447.4 C472 448 462 451 452 455 C446 457.5 441 460 436 463 M424 468.8 C421.4 472 421 477 421.6 483 C422.6 491 424.4 498 427.4 503.4 C430 507.6 434 510 438 511 C441 511.8 444 512.4 448 513" stroke="#333" stroke-width="0.9"/><path d="M485 447.5 L540 446.8 L640 446.8 L664 447.2" stroke="#333" stroke-width="0.9"/><path d="M664 447.2 C674 447.6 682 449.6 688 452 C694 454.5 699 457.5 703.4 460.4 M719 468.8 C722 471.5 723.8 474.5 723.6 479 C723.2 486 721.8 493 719.4 499 C717.6 503.6 715.6 506.6 713 508.6 C710.6 510.4 707.6 511.2 704.6 511.6" stroke="#333" stroke-width="0.9"/><path d="M524 502 L621 502" stroke="#333" stroke-width="0.9"/><path d="M430.4 474.6 L439.6 473 L440.4 503 L431.8 503.2 C429.6 494 429.6 484 430.4 474.6 Z" fill="#ececec" stroke="none"/><path d="M713.6 474.6 L704.4 473 L703.6 505 L712.2 505.2 C715 495 715 484 713.6 474.6 Z" fill="#ececec" stroke="none"/><path d="M429.6 476 L431 476.6 L434.6 501.4 L437.6 501.6" stroke="#222" stroke-width="1.1"/><path d="M714.4 475 L712.8 475.6 L708.8 502 L706.2 502" stroke="#222" stroke-width="1.1"/><rect x="429" y="475" width="2.6" height="2.4" fill="#222" stroke="none"/><rect x="434" y="499.6" width="3.4" height="2.6" fill="#222" stroke="none"/><text x="433" y="490.4" font-size="3.4" font-weight="bold" fill="#222">90</text><path d="M436.4 480.6 L437.6 478.4 L438.8 480.6 Z" fill="none" stroke="#777" stroke-width="0.4"/><text x="706" y="489.6" font-size="4" font-weight="bold" fill="#222" font-style="italic">1/2</text><text x="709.6" y="477.8" font-size="4" font-weight="bold" fill="#222">1</text><text x="705.4" y="503.4" font-size="4.4" font-weight="bold" fill="#222">0</text><rect x="705.4" y="478.4" width="2.2" height="3" fill="none" stroke="#999" stroke-width="0.5"/><circle cx="440.2" cy="472.2" r="2" fill="#e8402a" stroke="none"/><circle cx="706.2" cy="506.2" r="2" fill="#f08a1c" stroke="none"/><path d="M443.6 509 C440.4 501 439.4 493 439.8 486 C441 468 458 449 482 448.2 C506 448.6 523.6 466 525.4 486 L524.4 502.6 C518 508 508 511.6 498 513.6 C486 515.8 474 516.2 464 515.4 C455 514.4 448.4 512 443.6 509 Z" fill="#dcdcdc" stroke="none"/><path d="M701.6 509 C704.8 501 705.8 493 705.4 487 C704.2 468 687.2 449 663.2 448.2 C639.2 448.6 621.6 466 619.8 486 L621.6 502.6 C627.2 508 637.2 511.6 647.2 513.6 C659.2 515.8 671.2 516.2 681.2 515.4 C690.2 514.4 696.8 512 701.6 509 Z" fill="#dcdcdc" stroke="none"/><path d="M445.6 508 C442.6 501 441.8 493.6 442.2 487 C443.4 469 459.6 451 482 450.6 C504.6 451 521.2 467.6 523 485.6" stroke="#262626" stroke-width="6.2"/><path d="M523 482 L525.8 486.4 L521 487.2 Z" fill="#262626" stroke="none"/><path d="M699.6 508 C702.6 501 703.4 493.6 703 487 C701.8 469 685.6 451 663.2 450.6 C640.6 451 624 467.6 622.2 485.6" stroke="#262626" stroke-width="6.2"/><path d="M622.4 482 L619.6 486.4 L624.4 487.2 Z" fill="#262626" stroke="none"/><path d="M443.6 507 C446 511 452 513.6 462 514.6 C474 515.6 488 514.8 500 512.4 C510 510.2 518 507.4 524 503" stroke="#262626" stroke-width="2.8"/><path d="M446 505 C452 509.6 464 511.4 476 511.4 C494 510.8 510 507 523 501.6" stroke="#262626" stroke-width="0.8"/><path d="M701.6 507 C699.2 511 693.2 513.6 683.2 514.6 C671.2 515.6 657.2 514.8 645.2 512.4 C635.2 510.2 627.2 507.4 621.2 503" stroke="#262626" stroke-width="2.8"/><path d="M699.2 505 C693.2 509.6 681.2 511.4 669.2 511.4 C651.2 510.8 635.2 507 622.2 501.6" stroke="#262626" stroke-width="0.8"/><line x1="440.87" y1="501.90" x2="446.06" y2="500.41" stroke="#fff" stroke-width="0.9"/><line x1="439.21" y1="489.82" x2="444.61" y2="489.92" stroke="#fff" stroke-width="0.9"/><line x1="441.35" y1="477.81" x2="446.48" y2="479.49" stroke="#fff" stroke-width="0.9"/><line x1="447.09" y1="466.92" x2="451.50" y2="470.04" stroke="#fff" stroke-width="0.9"/><line x1="455.94" y1="458.13" x2="459.24" y2="462.41" stroke="#fff" stroke-width="0.9"/><line x1="467.11" y1="452.21" x2="469.00" y2="457.26" stroke="#fff" stroke-width="0.9"/><line x1="479.61" y1="449.67" x2="479.93" y2="455.06" stroke="#fff" stroke-width="0.9"/><line x1="492.34" y1="450.76" x2="491.06" y2="456.00" stroke="#fff" stroke-width="0.9"/><line x1="504.17" y1="455.36" x2="501.41" y2="460.00" stroke="#fff" stroke-width="0.9"/><line x1="514.06" y1="463.07" x2="510.06" y2="466.70" stroke="#fff" stroke-width="0.9"/><line x1="521.14" y1="473.21" x2="516.25" y2="475.50" stroke="#fff" stroke-width="0.9"/><line x1="524.78" y1="484.89" x2="519.43" y2="485.65" stroke="#fff" stroke-width="0.9"/><line x1="620.42" y1="484.89" x2="625.77" y2="485.65" stroke="#fff" stroke-width="0.9"/><line x1="624.06" y1="473.21" x2="628.95" y2="475.50" stroke="#fff" stroke-width="0.9"/><line x1="631.14" y1="463.07" x2="635.14" y2="466.70" stroke="#fff" stroke-width="0.9"/><line x1="641.03" y1="455.36" x2="643.79" y2="460.00" stroke="#fff" stroke-width="0.9"/><line x1="652.86" y1="450.76" x2="654.14" y2="456.00" stroke="#fff" stroke-width="0.9"/><line x1="665.59" y1="449.67" x2="665.27" y2="455.06" stroke="#fff" stroke-width="0.9"/><line x1="678.09" y1="452.21" x2="676.20" y2="457.26" stroke="#fff" stroke-width="0.9"/><line x1="689.26" y1="458.13" x2="685.96" y2="462.41" stroke="#fff" stroke-width="0.9"/><line x1="698.11" y1="466.92" x2="693.70" y2="470.04" stroke="#fff" stroke-width="0.9"/><line x1="703.85" y1="477.81" x2="698.72" y2="479.49" stroke="#fff" stroke-width="0.9"/><line x1="705.99" y1="489.82" x2="700.59" y2="489.92" stroke="#fff" stroke-width="0.9"/><line x1="704.33" y1="501.90" x2="699.14" y2="500.41" stroke="#fff" stroke-width="0.9"/></g><g id="img3b" stroke-linecap="round" stroke-linejoin="round"><text x="447.6" y="500.296" font-size="3.6" font-weight="bold" font-style="italic" fill="#222" text-anchor="middle"></text><text x="453.6" y="483.376" font-size="6.6" font-weight="bold" font-style="italic" fill="#222" text-anchor="middle">40</text><text x="457" y="474.25600000000003" font-size="4.6" font-weight="bold" font-style="italic" fill="#222" text-anchor="middle">60</text><text x="463.6" y="468.248" font-size="6.8" font-weight="bold" font-style="italic" fill="#222" text-anchor="middle">80</text><text x="470.6" y="461.168" font-size="3.8" font-weight="bold" font-style="italic" fill="#222" text-anchor="middle">100</text><text x="480.8" y="460.984" font-size="4.4" font-weight="bold" font-style="italic" fill="#222" text-anchor="middle">120</text><text x="492.2" y="460.768" font-size="3.8" font-weight="bold" font-style="italic" fill="#222" text-anchor="middle">140</text><text x="499.4" y="467.304" font-size="6.4" font-weight="bold" font-style="italic" fill="#222" text-anchor="middle">160</text><text x="505.6" y="472.512" font-size="4.2" font-weight="bold" font-style="italic" fill="#222" text-anchor="middle">180</text><text x="509" y="478.984" font-size="4.4" font-weight="bold" font-style="italic" fill="#222" text-anchor="middle">200</text><text x="511.4" y="487.312" font-size="4.2" font-weight="bold" font-style="italic" fill="#222" text-anchor="middle">220</text><text x="451.6" y="490.352" font-size="3.2" font-weight="bold" font-style="italic" fill="#222" text-anchor="middle">km/h</text><text x="451.6" y="495.152" font-size="3.2" font-weight="bold" font-style="italic" fill="#222" text-anchor="middle">mph</text><text x="632" y="487.71999999999997" font-size="7" font-weight="bold" font-style="italic" fill="#222" text-anchor="middle">7</text><text x="637.8" y="474.488" font-size="5.8" font-weight="bold" font-style="italic" fill="#222" text-anchor="middle">6</text><text x="647" y="465.71999999999997" font-size="7" font-weight="bold" font-style="italic" fill="#222" text-anchor="middle">5</text><text x="662" y="461.488" font-size="5.8" font-weight="bold" font-style="italic" fill="#222" text-anchor="middle">4</text><text x="675.6" y="465.71999999999997" font-size="7" font-weight="bold" font-style="italic" fill="#222" text-anchor="middle">3</text><text x="686" y="474.2" font-size="5" font-weight="bold" font-style="italic" fill="#222" text-anchor="middle">2</text><text x="692.8" y="487.64799999999997" font-size="6.8" font-weight="bold" font-style="italic" fill="#222" text-anchor="middle">1</text><text x="690.8" y="492.33599999999996" font-size="2.6" font-weight="bold" font-style="italic" fill="#222" text-anchor="middle">x1000</text><text x="690.6" y="502.584" font-size="4.4" font-weight="bold" font-style="italic" fill="#222" text-anchor="middle">0</text><path d="M448 500.4 L474.6 490.6 L487.4 489.6 C490 487.6 492.6 487.4 494 488.6 L494 490.4 L484.6 497.2 L476.8 496.4 Z" stroke="#222" stroke-width="1.1" fill="#dcdcdc"/><path d="M448 500.4 L477.6 493.2" stroke="#222" stroke-width="0.7" fill="none"/><path d="M697 499.6 L671.6 490 L657.4 488.4 C654.6 486.4 652.4 486.8 651 488 L651.4 490 L660 496.6 L668.6 496 Z" stroke="#222" stroke-width="1.1" fill="#dcdcdc"/><path d="M697 499.6 L667.6 492.8" stroke="#222" stroke-width="0.7" fill="none"/><rect x="539" y="450.8" width="66.8" height="45.6" fill="#dcdcdc" stroke="#333" stroke-width="1"/></g><circle cx="429" cy="459.3" r="10.299999999999999" fill="#e8f3f8"/><circle cx="429" cy="459.3" r="9.2" fill="#0877a5"/><text x="429" y="463.8" font-size="12.8" font-weight="bold" fill="#fff" text-anchor="middle">1</text><circle cx="482.6" cy="482.1" r="10.299999999999999" fill="#e8f3f8"/><circle cx="482.6" cy="482.1" r="9.2" fill="#0877a5"/><text x="482.6" y="486.6" font-size="12.8" font-weight="bold" fill="#fff" text-anchor="middle">2</text><circle cx="571.4" cy="472.4" r="10.299999999999999" fill="#e8f3f8"/><circle cx="571.4" cy="472.4" r="9.2" fill="#0877a5"/><text x="571.4" y="476.9" font-size="12.8" font-weight="bold" fill="#fff" text-anchor="middle">3</text><circle cx="663.6" cy="477.4" r="10.299999999999999" fill="#e8f3f8"/><circle cx="663.6" cy="477.4" r="9.2" fill="#0877a5"/><text x="663.6" y="481.9" font-size="12.8" font-weight="bold" fill="#fff" text-anchor="middle">4</text><circle cx="712" cy="460.4" r="10.299999999999999" fill="#e8f3f8"/><circle cx="712" cy="460.4" r="9.2" fill="#0877a5"/><text x="712" y="464.9" font-size="12.8" font-weight="bold" fill="#fff" text-anchor="middle">5</text><g id="img4" fill="none" stroke-linecap="round" stroke-linejoin="round"><path d="M440.4 554.6 C452 549.6 470 545 490.6 542.8 C502 541.6 512 541.2 522 541 L642 541.2 C654 541.8 664 543.4 673.6 545.6 C686 548.6 696 552 705.4 556" stroke="#333" stroke-width="0.9"/><path d="M422.6 565.2 C419 567.4 417.2 570 417 573 C417.6 582 420 591 423 598 C423.4 600.6 423.6 601.6 424.4 602.6 C427 605.6 430 607 434 608.2 C446 611.8 458 614 468 614.4 C478 614.4 486 613.6 494 612 C502 610 508 608.4 513.6 606.4 C518 603.6 521.4 599.4 525.4 598 L620.4 598 C624.4 599.4 627.8 603.6 632 606.4 C638 608.6 644 610.4 651 611.6 C658 613.4 666 614.4 674 614.4 C682 614.4 688 613.6 694 612.8 C702 611 710 608.8 716.6 606.2 C719.6 604.6 721 602 722 599.2 C725.4 591 727.8 582 728.6 575 C728.6 571 726.4 568 723.8 565.8" stroke="#333" stroke-width="0.9"/><path d="M514.6 607.6 C519 604.6 522.4 601.8 526.4 600.6 L619.4 600.6 C623.4 601.8 626.8 604.6 631.2 607.6" stroke="#333" stroke-width="0.9"/><path d="M418.4 571 L435.4 570.6 L435.8 597 L423.4 597.2 C420.6 589 419 580 418.4 571 Z" fill="#ebebeb" stroke="none"/><rect x="418.80" y="572.00" width="4.8" height="1.9" fill="#222" stroke="none"/><rect x="419.42" y="575.40" width="4.8" height="1.9" fill="#222" stroke="none"/><rect x="420.04" y="578.80" width="4.8" height="1.9" fill="#222" stroke="none"/><rect x="420.66" y="582.20" width="4.8" height="1.9" fill="#222" stroke="none"/><rect x="421.28" y="585.60" width="4.2" height="1.9" fill="#222" stroke="none"/><rect x="421.90" y="589.00" width="4.2" height="1.9" fill="#222" stroke="none"/><rect x="422.52" y="592.40" width="4.2" height="1.9" fill="#222" stroke="none"/><path d="M424.6 571.6 L428.6 596.6" stroke="#444" stroke-width="0.7"/><path d="M426.6 571.4 H432.4 M426.6 573.2 H431.4 M426.8 575 H430.4" stroke="#999" stroke-width="0.8"/><path d="M727.6 571 L708.6 570.6 L708.2 597 L722.4 597.2 C725.2 589 727 580 727.6 571 Z" fill="#ebebeb" stroke="none"/><rect x="721.60" y="572.00" width="5.4" height="1.9" fill="#222" stroke="none"/><rect x="720.98" y="575.40" width="5.4" height="1.9" fill="#222" stroke="none"/><rect x="720.36" y="578.80" width="5.4" height="1.9" fill="#222" stroke="none"/><rect x="719.74" y="582.20" width="5.4" height="1.9" fill="#222" stroke="none"/><rect x="719.12" y="585.60" width="5.4" height="1.9" fill="#222" stroke="none"/><rect x="718.50" y="589.00" width="5.4" height="1.9" fill="#222" stroke="none"/><rect x="717.88" y="592.40" width="5.4" height="1.9" fill="#222" stroke="none"/><path d="M719.6 571.6 L716.6 596.6" stroke="#444" stroke-width="0.7"/><path d="M709 596 L716 594 L716 596.6 Z" fill="#888" stroke="none"/><circle cx="711.6" cy="576.6" r="1.5" stroke="#777" stroke-width="0.6"/><path d="M712.4 582 H714.6 M712.4 583.6 H714.6" stroke="#888" stroke-width="0.6"/><path d="M439.4 599.4 C438.6 590 441 579 447 569.4 C455 556.6 467 549 479.4 548 C493 547.6 505 553 513 563.4 C517.6 569.6 520.4 576 521.4 582 L488 587 L466.4 592 Z" fill="#dcdcdc" stroke="none"/><path d="M439.4 599.4 C438.6 590 441 579 447 569.4 C455 556.6 467 549 479.4 548 C493 547.6 505 553 513 563.4 C517.6 569.6 520.4 576 521.4 582" stroke="#999" stroke-width="0.5"/><line x1="439.71" y1="599.26" x2="443.03" y2="598.55" stroke="#231f20" stroke-width="0.9"/><line x1="438.82" y1="591.85" x2="440.42" y2="591.79" stroke="#231f20" stroke-width="0.5"/><line x1="439.22" y1="584.39" x2="442.58" y2="584.87" stroke="#231f20" stroke-width="0.9"/><line x1="440.87" y1="577.12" x2="442.39" y2="577.62" stroke="#231f20" stroke-width="0.5"/><line x1="443.75" y1="570.25" x2="446.74" y2="571.86" stroke="#231f20" stroke-width="0.9"/><line x1="447.74" y1="564.01" x2="449.00" y2="565.00" stroke="#231f20" stroke-width="0.5"/><line x1="452.74" y1="558.58" x2="455.00" y2="561.12" stroke="#231f20" stroke-width="0.9"/><line x1="458.60" y1="554.12" x2="459.43" y2="555.48" stroke="#231f20" stroke-width="0.5"/><line x1="465.12" y1="550.78" x2="466.37" y2="553.94" stroke="#231f20" stroke-width="0.9"/><line x1="472.11" y1="548.66" x2="472.43" y2="550.22" stroke="#231f20" stroke-width="0.5"/><line x1="479.35" y1="547.81" x2="479.44" y2="551.21" stroke="#231f20" stroke-width="0.9"/><line x1="486.63" y1="548.28" x2="486.39" y2="549.86" stroke="#231f20" stroke-width="0.5"/><line x1="493.71" y1="550.04" x2="492.63" y2="553.26" stroke="#231f20" stroke-width="0.9"/><line x1="500.39" y1="553.04" x2="499.62" y2="554.44" stroke="#231f20" stroke-width="0.5"/><line x1="506.45" y1="557.19" x2="504.32" y2="559.84" stroke="#231f20" stroke-width="0.9"/><line x1="511.72" y1="562.36" x2="510.51" y2="563.41" stroke="#231f20" stroke-width="0.5"/><line x1="516.02" y1="568.39" x2="513.11" y2="570.15" stroke="#231f20" stroke-width="0.9"/><line x1="519.22" y1="575.09" x2="517.73" y2="575.67" stroke="#231f20" stroke-width="0.5"/><line x1="521.24" y1="582.27" x2="517.90" y2="582.92" stroke="#231f20" stroke-width="0.9"/><path d="M623.6 582 C625 574 628.4 567 633.6 561 C641.6 552 652.6 547.8 664.6 548 C677 548.6 688 554 696 564 C702.6 572.6 705.6 584 705.6 597.4 L704 599.4 L673.6 589.4 L656.4 587 Z" fill="#dcdcdc" stroke="none"/><path d="M623.6 582 C625 574 628.4 567 633.6 561 C641.6 552 652.6 547.8 664.6 548 C677 548.6 688 554 696 564 C702.6 572.6 705.6 584 705.6 597.4" stroke="#999" stroke-width="0.5"/><path d="M623.6 582 L631 583.2 M655 549.4 L655.4 553.6 M691.6 558.4 L688 561.8 M705 599.4 L698 596.8" stroke="#777" stroke-width="0.6"/><path d="M625 580.6 H629.6" stroke="#222" stroke-width="0.9"/><path d="M632 583.2 C633 576 636.4 569.6 641 564.6 C647.6 557.8 656 554.6 664.6 555 C671 555.2 677 557.4 682 561" stroke="#222" stroke-width="1.3"/><path d="M682 561 C687 565 691.4 570.6 694.4 577.6 C696.8 583.6 697.8 590 697.8 596.6" stroke="#222" stroke-width="1" stroke-dasharray="0.9 0.9" stroke-linecap="butt"/></g><g id="img4b" stroke-linecap="round" stroke-linejoin="round"><text x="447.2" y="598.544" font-size="5.4" font-weight="bold" font-style="italic" fill="#222" text-anchor="middle">0</text><text x="447.8" y="587.632" font-size="6.2" font-weight="bold" font-style="italic" fill="#222" text-anchor="middle">20</text><text x="451.2" y="575.632" font-size="6.2" font-weight="bold" font-style="italic" fill="#222" text-anchor="middle">40</text><text x="457" y="567.016" font-size="5.6" font-weight="bold" font-style="italic" fill="#222" text-anchor="middle">60</text><text x="467.2" y="560.832" font-size="6.2" font-weight="bold" font-style="italic" fill="#222" text-anchor="middle">80</text><text x="480" y="558.432" font-size="6.2" font-weight="bold" font-style="italic" fill="#222" text-anchor="middle">100</text><text x="491.2" y="559.832" font-size="6.2" font-weight="bold" font-style="italic" fill="#222" text-anchor="middle">120</text><text x="501" y="566.016" font-size="5.6" font-weight="bold" font-style="italic" fill="#222" text-anchor="middle">140</text><text x="506.8" y="574.432" font-size="6.2" font-weight="bold" font-style="italic" fill="#222" text-anchor="middle">160</text><text x="510.6" y="583.216" font-size="5.6" font-weight="bold" font-style="italic" fill="#222" text-anchor="middle">180</text><path d="M513.4 581.4 H518.8 M440.6 598.6 L444 597.8" stroke="#222" stroke-width="0.7" fill="none"/><text x="480" y="602.8" font-size="2.8" font-weight="bold" fill="#222" text-anchor="middle">km/h</text><text x="663.4" y="602.8" font-size="2.6" font-weight="bold" fill="#222" text-anchor="middle">% pwr</text><text transform="translate(637.6 564.4) rotate(-52)" font-size="4.8" font-weight="bold" fill="#222" text-anchor="middle">POWER</text><text transform="translate(676 553.8) rotate(18)" font-size="5" font-weight="bold" fill="#222" text-anchor="middle">ECO</text><text transform="translate(699.6 583) rotate(76)" font-size="4.8" font-weight="bold" fill="#222" text-anchor="middle">CHARGE</text><path d="M467.6 592.6 A7.4 7.4 0 0 1 476.6 581" fill="none" stroke="#555" stroke-width="0.5"/><path d="M674.6 580.6 A7.6 7.6 0 0 1 676.6 592" fill="none" stroke="#888" stroke-width="0.5"/><path d="M455.6 556 L456.8 556.4 L479 582.6 L476.8 584.6 L455.8 559 Z" fill="#1e1e1e" stroke="#1e1e1e" stroke-width="0.4"/><path d="M477 583 C482 585 486.4 590 487.2 594.6 C487.6 597 486.8 598.6 486 599.6 L484 598.4 C479.6 596.6 475.6 592.6 474.2 588.6 C473.8 586.6 475.4 584.6 477 583 Z M477 583 C479.6 588 483 593.6 486 599.6 M475.6 587 C478.6 590.6 482 595 484.6 598.6 M478.6 583.6 C482.4 587.6 485 592.6 486.6 596.6" fill="#f2f2f2" stroke="#1e1e1e" stroke-width="0.7"/><path d="M688.2 556.6 L687 556.6 L669.8 581.4 L672 583.2 L688 559.6 Z" fill="#1e1e1e" stroke="#1e1e1e" stroke-width="0.4"/><path d="M671.6 581.6 C666 583 660.6 587.6 658.6 592.6 C657.6 595 657.8 597 658.2 598.2 L660.6 597.6 C665.6 596.2 670.6 592.6 672.8 588.6 C673.6 586.6 673 583.6 671.6 581.6 Z M671.6 581.6 C667.6 586.6 662 593 658.2 598.2 M673 586 C669 589.6 664 594.4 660.6 597.6 M669.6 582.4 C665 585.6 661 590.6 659 594.6" fill="#f2f2f2" stroke="#1e1e1e" stroke-width="0.7"/><path d="M696.6 565 L659.6 596.6" stroke="#222" stroke-width="0.7"/><rect x="539" y="547.6" width="67" height="43.8" fill="#dcdcdc" stroke="#333" stroke-width="1"/></g><circle cx="431.4" cy="559.6" r="10.299999999999999" fill="#e8f3f8"/><circle cx="431.4" cy="559.6" r="9.2" fill="#0877a5"/><text x="431.4" y="564.1" font-size="12.8" font-weight="bold" fill="#fff" text-anchor="middle">1</text><circle cx="487.9" cy="575.7" r="10.299999999999999" fill="#e8f3f8"/><circle cx="487.9" cy="575.7" r="9.2" fill="#0877a5"/><text x="487.9" y="580.2" font-size="12.8" font-weight="bold" fill="#fff" text-anchor="middle">2</text><circle cx="574.3" cy="566.7" r="10.299999999999999" fill="#e8f3f8"/><circle cx="574.3" cy="566.7" r="9.2" fill="#0877a5"/><text x="574.3" y="571.2" font-size="12.8" font-weight="bold" fill="#fff" text-anchor="middle">3</text><circle cx="657.6" cy="575.3" r="10.299999999999999" fill="#e8f3f8"/><circle cx="657.6" cy="575.3" r="9.2" fill="#0877a5"/><text x="657.6" y="579.8" font-size="12.8" font-weight="bold" fill="#fff" text-anchor="middle">4</text><circle cx="714.7" cy="560.7" r="10.299999999999999" fill="#e8f3f8"/><circle cx="714.7" cy="560.7" r="9.2" fill="#0877a5"/><text x="714.7" y="565.2" font-size="12.8" font-weight="bold" fill="#fff" text-anchor="middle">5</text><g id="img5"><rect x="813" y="310.60" width="164.50" height="35.00" fill="#dcdcdc"/><rect x="983.1" y="310.60" width="35.70" height="35.00" fill="#dcdcdc"/><rect x="813" y="351.10" width="205.80" height="56.30" fill="#dcdcdc"/><rect x="813" y="413.30" width="205.80" height="35.60" fill="#dcdcdc"/><rect x="810.8" y="308.4" width="210.60000000000002" height="143.20" fill="none" stroke="#6a6a6a" stroke-width="1"/><path d="M810.8 348.2 H1021.4 M810.8 410.1 H1021.4 M980.6 308.4 V348.2" stroke="#6a6a6a" stroke-width="1" fill="none"/><path d="M824.86 338.33 A12.3 12.3 0 1 1 843.14 338.33" fill="none" stroke="#231f20" stroke-width="1.55"/><line x1="824.86" y1="338.33" x2="827.98" y2="335.52" stroke="#231f20" stroke-width="1.55"/><line x1="843.14" y1="338.33" x2="840.02" y2="335.52" stroke="#231f20" stroke-width="1.55"/><line x1="834.00" y1="317.80" x2="834.00" y2="321.80" stroke="#231f20" stroke-width="1.55"/><line x1="842.39" y1="321.10" x2="839.66" y2="324.03" stroke="#231f20" stroke-width="1.55"/><line x1="821.70" y1="330.10" x2="826.10" y2="330.10" stroke="#aaa" stroke-width="0.9"/><line x1="846.30" y1="330.10" x2="841.90" y2="330.10" stroke="#aaa" stroke-width="0.9"/><line x1="833" y1="329.09999999999997" x2="827.4" y2="321.7" stroke="#231f20" stroke-width="1.55"/><line x1="851.6" y1="314.49999999999994" x2="846.2" y2="318.19999999999993" stroke="#231f20" stroke-width="1.7"/><path d="M843.9000000000001 319.79999999999995 L844.6 314.09999999999997 L849.8000000000001 320.3999999999999 Z" fill="#231f20"/><text x="856.6" y="327.29999999999995" font-size="21.6" font-weight="normal" font-style="normal" fill="#262626" text-anchor="start" textLength="25" lengthAdjust="spacingAndGlyphs" >60</text><circle cx="952.8" cy="328.10" r="14" fill="#fff" stroke="#df3b22" stroke-width="1.7"/><text x="953.4" y="333.5" font-size="16.6" font-weight="normal" font-style="normal" fill="#333" text-anchor="middle" textLength="18" lengthAdjust="spacingAndGlyphs" >70</text><path d="M986.4000000000001 319.8 H991.76 C999.10 319.8 1001.3 323.68 1001.3 327.55 C1001.3 331.43 999.10 335.3 991.76 335.3 H986.4000000000001 Z" fill="none" stroke="#1e1e1e" stroke-width="3.4" stroke-linejoin="miter"/><text x="1003.6" y="336.9" font-size="21.4" font-weight="normal" font-style="normal" fill="#1e1e1e" text-anchor="start" textLength="13.6" lengthAdjust="spacingAndGlyphs" stroke="#1e1e1e" stroke-width="0.4">4</text><text x="890.4" y="402.5" font-size="47.4" font-weight="normal" font-style="normal" fill="#1e1e1e" text-anchor="start" textLength="54.8" lengthAdjust="spacingAndGlyphs" stroke="#1e1e1e" stroke-width="0.5">60</text><text x="813.4" y="440.8" font-size="22.6" font-weight="normal" font-style="normal" fill="#262626" text-anchor="start" textLength="78.6" lengthAdjust="spacingAndGlyphs" >008592</text><text x="958.2" y="440.4" font-size="18.6" font-weight="normal" font-style="normal" fill="#262626" text-anchor="start" textLength="35.2" lengthAdjust="spacingAndGlyphs" >ECO</text></g><circle cx="910.5" cy="309.5" r="10.299999999999999" fill="#e8f3f8"/><circle cx="910.5" cy="309.5" r="9.2" fill="#0877a5"/><text x="910.5" y="314.0" font-size="12.8" font-weight="bold" fill="#fff" text-anchor="middle">1</text><circle cx="1002.9" cy="307.5" r="10.299999999999999" fill="#e8f3f8"/><circle cx="1002.9" cy="307.5" r="9.2" fill="#0877a5"/><text x="1002.9" y="312.0" font-size="12.8" font-weight="bold" fill="#fff" text-anchor="middle">2</text><circle cx="883.5" cy="365.8" r="10.299999999999999" fill="#e8f3f8"/><circle cx="883.5" cy="365.8" r="9.2" fill="#0877a5"/><text x="883.5" y="370.3" font-size="12.8" font-weight="bold" fill="#fff" text-anchor="middle">3</text><circle cx="923.6" cy="449.4" r="10.299999999999999" fill="#e8f3f8"/><circle cx="923.6" cy="449.4" r="9.2" fill="#0877a5"/><text x="923.6" y="453.9" font-size="12.8" font-weight="bold" fill="#fff" text-anchor="middle">4</text><g id="img6"><rect x="813" y="484.90" width="164.50" height="35.50" fill="#dcdcdc"/><rect x="983.1" y="484.90" width="35.70" height="35.50" fill="#dcdcdc"/><rect x="813" y="525.90" width="205.80" height="56.80" fill="#dcdcdc"/><rect x="813" y="588.60" width="205.80" height="35.40" fill="#dcdcdc"/><rect x="810.8" y="482.7" width="210.60000000000002" height="144.00" fill="none" stroke="#6a6a6a" stroke-width="1"/><path d="M810.8 523 H1021.4 M810.8 585.4 H1021.4 M980.6 482.7 V523" stroke="#6a6a6a" stroke-width="1" fill="none"/><path d="M824.86 512.63 A12.3 12.3 0 1 1 843.14 512.63" fill="none" stroke="#231f20" stroke-width="1.55"/><line x1="824.86" y1="512.63" x2="827.98" y2="509.82" stroke="#231f20" stroke-width="1.55"/><line x1="843.14" y1="512.63" x2="840.02" y2="509.82" stroke="#231f20" stroke-width="1.55"/><line x1="834.00" y1="492.10" x2="834.00" y2="496.10" stroke="#231f20" stroke-width="1.55"/><line x1="842.39" y1="495.40" x2="839.66" y2="498.33" stroke="#231f20" stroke-width="1.55"/><line x1="821.70" y1="504.40" x2="826.10" y2="504.40" stroke="#aaa" stroke-width="0.9"/><line x1="846.30" y1="504.40" x2="841.90" y2="504.40" stroke="#aaa" stroke-width="0.9"/><line x1="833" y1="503.4" x2="827.4" y2="496.0" stroke="#231f20" stroke-width="1.55"/><line x1="851.6" y1="488.79999999999995" x2="846.2" y2="492.49999999999994" stroke="#231f20" stroke-width="1.7"/><path d="M843.9000000000001 494.09999999999997 L844.6 488.4 L849.8000000000001 494.69999999999993 Z" fill="#231f20"/><text x="856.6" y="501.59999999999997" font-size="21.6" font-weight="normal" font-style="normal" fill="#262626" text-anchor="start" textLength="25" lengthAdjust="spacingAndGlyphs" >60</text><circle cx="952.8" cy="502.40" r="14" fill="#fff" stroke="#df3b22" stroke-width="1.7"/><text x="953.4" y="507.8" font-size="16.6" font-weight="normal" font-style="normal" fill="#333" text-anchor="middle" textLength="18" lengthAdjust="spacingAndGlyphs" >70</text><path d="M994.6 495.59999999999997 H999.93 C1007.23 495.59999999999997 1009.4 499.25 1009.4 502.9 C1009.4 506.55 1007.23 510.2 999.93 510.2 H994.6 Z" fill="none" stroke="#1e1e1e" stroke-width="3.4" stroke-linejoin="miter"/><text x="890.8" y="577" font-size="47.4" font-weight="normal" font-style="normal" fill="#1e1e1e" text-anchor="start" textLength="54.8" lengthAdjust="spacingAndGlyphs" stroke="#1e1e1e" stroke-width="0.5">60</text><path d="M820.6 607.4 H824.6" stroke="#231f20" stroke-width="1.2"/><path d="M824 604.8 L827.2 607.4 L824 610 Z" fill="#231f20"/><path d="M828.6 615.4 V601.6 Q828.6 599.6 830.6 599.6 H836 Q838 599.6 838 601.6 V615.4 Z" fill="#231f20"/><rect x="830.2" y="601.4" width="6.2" height="4.6" fill="#dcdcdc"/><rect x="828.6" y="614.4" width="9.4" height="1.6" fill="#231f20"/><path d="M838 611 Q838 614.6 840.6 614.6 Q843.2 614.6 843.2 611 V607" fill="none" stroke="#231f20" stroke-width="1.2"/><rect x="841.3" y="602.6" width="3.8" height="4.8" rx="1.7" fill="#231f20"/><path d="M842.2 600.4 V603 M844.2 600.4 V603" stroke="#231f20" stroke-width="0.9"/><text x="851.8" y="615.3" font-size="21.4" font-weight="normal" font-style="normal" fill="#222" text-anchor="start" textLength="32.6" lengthAdjust="spacingAndGlyphs" stroke="#222" stroke-width="0.25">132</text><text x="958.2" y="615.4" font-size="18.6" font-weight="normal" font-style="normal" fill="#262626" text-anchor="start" textLength="35.2" lengthAdjust="spacingAndGlyphs" >ECO</text></g><circle cx="910.9" cy="484.5" r="10.299999999999999" fill="#e8f3f8"/><circle cx="910.9" cy="484.5" r="9.2" fill="#0877a5"/><text x="910.9" y="489.0" font-size="12.8" font-weight="bold" fill="#fff" text-anchor="middle">1</text><circle cx="1021.7" cy="487.2" r="10.299999999999999" fill="#e8f3f8"/><circle cx="1021.7" cy="487.2" r="9.2" fill="#0877a5"/><text x="1021.7" y="491.7" font-size="12.8" font-weight="bold" fill="#fff" text-anchor="middle">2</text><circle cx="883.7" cy="539.8" r="10.299999999999999" fill="#e8f3f8"/><circle cx="883.7" cy="539.8" r="9.2" fill="#0877a5"/><text x="883.7" y="544.3" font-size="12.8" font-weight="bold" fill="#fff" text-anchor="middle">3</text><circle cx="923.8" cy="623.7" r="10.299999999999999" fill="#e8f3f8"/><circle cx="923.8" cy="623.7" r="9.2" fill="#0877a5"/><text x="923.8" y="628.2" font-size="12.8" font-weight="bold" fill="#fff" text-anchor="middle">4</text></svg>
<!-- chapter number -->
<svg style="left:0;top:0" width="1191" height="794"><path d="M1104.5 71.05 H1119.7 V106.6 H1111.3 V77.75 H1104.5 Z" fill="#0877a5"/></svg>
</body></html>
